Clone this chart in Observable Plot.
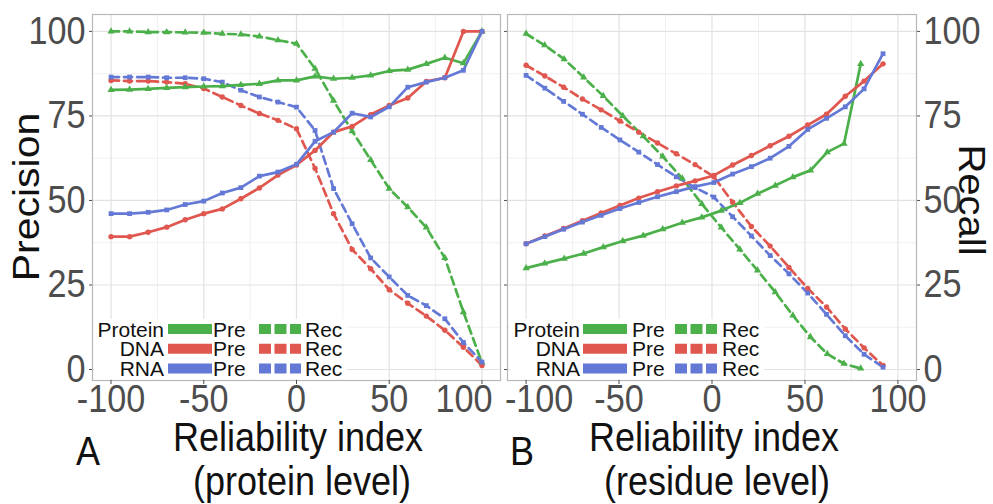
<!DOCTYPE html>
<html>
<head>
<meta charset="utf-8">
<script src="https://cdn.jsdelivr.net/npm/d3@7"></script>
<script src="https://cdn.jsdelivr.net/npm/@observablehq/plot@0.6"></script>
<style>
  body { margin: 0; background: #fff; font-family: "Liberation Sans", Arial, sans-serif; }
  #wrap { position: relative; width: 993px; height: 504px; overflow: hidden; background: #fff; }
  .pan { position: absolute; top: 0; }
  .pan svg { max-width: none; }
  #over { position: absolute; left: 0; top: 0; pointer-events: none; }
</style>
</head>
<body>
<div id="wrap"></div>
<script>
// ---------- data ----------
const seriesNames = ["Protein", "DNA", "RNA"];
const seriesColors = ["#4cb04a", "#e0574f", "#6479d6"];
const seriesSymbols = ["triangle", "circle", "square"];
const metricNames = ["Pre", "Rec"];

const xTicks = [-100, -50, 0, 50, 100];
const xMinor = [-75, -25, 25, 75];
const yTicks = [0, 25, 50, 75, 100];
const yMinor = [12.5, 37.5, 62.5, 87.5];

// Panel A (protein level)
const xA = [-100, -90, -80, -70, -60, -50, -40, -30, -20, -10, 0, 10, 20, 30, 40, 50, 60, 70, 80, 90, 100];
const protPreA = [82.7, 82.8, 83.0, 83.3, 83.5, 83.7, 83.8, 84.2, 84.5, 85.5, 85.5, 86.7, 86.0, 86.3, 87.0, 88.3, 88.7, 90.4, 92.2, 90.6, 100];
const dnaPreA  = [39.3, 39.3, 40.6, 42.1, 44.3, 46.1, 47.5, 50.5, 53.7, 57.5, 60.5, 64.8, 70.2, 71.9, 75.4, 78.1, 80.3, 85.2, 86.3, 100, 100];
const rnaPreA  = [46.1, 46.1, 46.5, 47.2, 48.8, 49.8, 52.2, 53.8, 57.2, 58.4, 60.7, 67.5, 70.2, 75.8, 74.7, 77.7, 83.5, 85.0, 86.3, 88.5, 100];
const protRecA = [100, 100, 99.8, 99.8, 99.7, 99.6, 99.3, 99.1, 98.5, 97.4, 96.4, 89.0, 79.5, 70.5, 62.0, 53.5, 48.0, 42.0, 33.0, 17.0, 2.0];
const dnaRecA  = [85.5, 85.3, 85.3, 85.0, 84.5, 83.1, 80.6, 78.1, 75.7, 73.7, 71.2, 59.5, 46.1, 35.5, 29.8, 23.6, 19.6, 15.8, 11.6, 6.6, 1.2];
const rnaRecA  = [86.5, 86.5, 86.5, 86.3, 86.3, 86.0, 85.0, 82.6, 80.6, 79.1, 77.6, 70.7, 53.5, 43.1, 33.0, 27.4, 21.9, 18.9, 15.0, 8.0, 2.2];

// Panel B (residue level)
const xBprot = [-100, -90, -79.5, -69, -58.5, -48, -37, -26.5, -16, -5.5, 5, 15, 24.5, 34, 43.5, 53, 62, 71, 80];
const protPreB = [30.0, 31.4, 32.8, 34.3, 36.2, 38.0, 39.6, 41.5, 43.4, 45.0, 47.0, 49.3, 52.0, 54.4, 56.9, 58.9, 64.3, 66.8, 90.4];
const protRecB = [99.3, 95.9, 91.8, 86.4, 80.9, 75.0, 69.0, 63.0, 56.5, 49.0, 42.0, 35.5, 29.3, 22.9, 16.0, 9.6, 4.6, 1.7, 0.3];
const xBna = [-100, -89.9, -79.8, -69.7, -59.6, -49.5, -39.4, -29.3, -19.2, -9.1, 1, 11.1, 21.2, 31.3, 41.4, 51.5, 61.6, 71.7, 81.8, 92];
const dnaPreB = [37.2, 39.5, 41.7, 44.0, 46.3, 48.5, 50.7, 52.6, 54.3, 55.8, 57.4, 60.5, 63.3, 66.2, 69.0, 72.3, 75.5, 80.8, 85.3, 90.4];
const rnaPreB = [37.2, 39.3, 41.5, 43.6, 45.6, 47.6, 49.4, 51.1, 52.6, 54.1, 55.3, 57.8, 60.0, 62.5, 66.0, 71.0, 74.3, 77.7, 83.0, 93.4];
const dnaRecB = [90.0, 86.8, 83.5, 80.0, 76.8, 73.5, 70.2, 67.0, 63.8, 60.6, 57.0, 49.5, 42.3, 36.5, 30.2, 24.0, 18.5, 12.0, 6.4, 1.2];
const rnaRecB = [87.0, 83.2, 79.3, 75.5, 71.6, 67.9, 64.3, 60.6, 57.0, 53.8, 51.0, 45.2, 39.5, 33.7, 28.3, 22.6, 16.3, 10.0, 4.5, 0.7];

// ---------- build ----------
const rows = (xs, ys, series, metric) => xs.map((x, i) => ({x, v: ys[i], series, metric}));

const dataA = [
  ...rows(xA, protRecA, "Protein", "Rec"), ...rows(xA, dnaRecA, "DNA", "Rec"), ...rows(xA, rnaRecA, "RNA", "Rec"),
  ...rows(xA, protPreA, "Protein", "Pre"), ...rows(xA, dnaPreA, "DNA", "Pre"), ...rows(xA, rnaPreA, "RNA", "Pre")
];
const dataB = [
  ...rows(xBprot, protRecB, "Protein", "Rec"), ...rows(xBna, dnaRecB, "DNA", "Rec"), ...rows(xBna, rnaRecB, "RNA", "Rec"),
  ...rows(xBprot, protPreB, "Protein", "Pre"), ...rows(xBna, dnaPreB, "DNA", "Pre"), ...rows(xBna, rnaPreB, "RNA", "Pre")
];

const FONT = '"Liberation Sans", Arial, Helvetica, sans-serif';
const TICKFS = 38;
const SQUEEZE = 0.9; // the reference lettering is horizontally condensed

function panelPlot({data, width, marginLeft, marginRight, side, labelGroups}) {
  const marks = [
    Plot.gridX(xMinor, {stroke: "#f0f0f0", strokeOpacity: 1, strokeWidth: 1}),
    Plot.gridY(yMinor, {stroke: "#f0f0f0", strokeOpacity: 1, strokeWidth: 1}),
    Plot.gridX(xTicks, {stroke: "#e2e2e2", strokeOpacity: 1, strokeWidth: 1.2}),
    Plot.gridY(yTicks, {stroke: "#e2e2e2", strokeOpacity: 1, strokeWidth: 1.2}),
    Plot.frame({stroke: "#b8b8b8", strokeWidth: 1.2}),
    Plot.line(data.filter(d => d.metric === "Rec"), {x: "x", y: "v", z: "series", stroke: "series", strokeWidth: 2.7, strokeDasharray: "8,5"}),
    Plot.line(data.filter(d => d.metric === "Pre"), {x: "x", y: "v", z: "series", stroke: "series", strokeWidth: 2.7}),
    Plot.dot(data, {x: "x", y: "v", symbol: "series", fill: "series", r: 2.7}),
    Plot.axisX(xTicks, {anchor: "bottom", tickSize: 4, tickFormat: () => "", label: null}),
  ];
  for (const g of labelGroups) {
    marks.push(Plot.text(g.ticks, {x: d => d, text: d => String(d), frameAnchor: "bottom", lineAnchor: "top", dy: 5, dx: g.dx, fontSize: TICKFS, fill: "#4d4d4d"}));
  }
  if (side === "left") {
    marks.push(Plot.axisY(yTicks, {anchor: "left", tickSize: 3, tickPadding: 4, fontSize: TICKFS, tickFormat: d => String(d), label: null}));
  } else {
    marks.push(Plot.axisY(yTicks, {anchor: "left", tickSize: 3, tickFormat: () => "", label: null}));
    marks.push(Plot.axisY(yTicks, {anchor: "right", tickSize: 3, tickPadding: 4, fontSize: TICKFS, tickFormat: d => String(d), label: null}));
  }
  const svg = Plot.plot({
    width, height: 420,
    marginTop: 14, marginBottom: 40, marginLeft, marginRight,
    x: {domain: [-110, 110], label: null},
    y: {domain: [-3.25, 105], label: null},
    color: {domain: seriesNames, range: seriesColors},
    symbol: {domain: seriesNames, range: seriesSymbols},
    style: {fontFamily: FONT, background: "transparent", color: "#4d4d4d", overflow: "visible"},
    marks
  });
  // condense the tick lettering around each label's own anchor
  svg.querySelectorAll("text").forEach(t => {
    const tr = t.getAttribute("transform");
    if (tr) t.setAttribute("transform", tr + ` scale(${SQUEEZE},1)`);
  });
  return svg;
}

const wrap = document.getElementById("wrap");
function place(node, left, width) {
  const div = document.createElement("div");
  div.className = "pan";
  div.style.left = left + "px";
  div.style.width = width + "px";
  div.appendChild(node);
  wrap.appendChild(div);
}

place(panelPlot({data: dataA, width: 505, marginLeft: 92, marginRight: 5, side: "left",
  labelGroups: [{ticks: [-100, -50, 0, 50], dx: 0}, {ticks: [100], dx: -18}]}), 0, 505);
place(panelPlot({data: dataB, width: 493, marginLeft: 7, marginRight: 77, side: "right",
  labelGroups: [{ticks: [-100], dx: 13}, {ticks: [-50, 0, 50, 100], dx: 0}]}), 500, 493);

// ---------- overlay: titles + legends ----------
const over = d3.select(wrap).append("svg").attr("id", "over").attr("width", 993).attr("height", 504)
  .style("font-family", FONT);

function txt(x, y, s, size, opts = {}) {
  const sq = opts.squeeze === undefined ? SQUEEZE : opts.squeeze;
  const tf = opts.rotate
    ? `translate(${x},${y}) rotate(${opts.rotate}) scale(1,${sq})`
    : `translate(${x},${y}) scale(${sq},1)`;
  return over.append("text").attr("x", 0).attr("y", 0).attr("transform", tf).text(s)
    .attr("font-size", size).attr("fill", opts.fill || "#111")
    .attr("text-anchor", opts.anchor || "start");
}

// axis titles
txt(39, 197, "Precision", 41, {anchor: "middle", rotate: -90});
txt(959, 200, "Recall", 40, {anchor: "middle", rotate: 90});
// panel captions
txt(76, 465, "A", 40);
txt(298, 451, "Reliability index", 40, {anchor: "middle"});
txt(302, 495, "(protein level)", 40, {anchor: "middle"});
txt(510, 465, "B", 40);
txt(714, 451, "Reliability index", 40, {anchor: "middle"});
txt(717, 495, "(residue level)", 40, {anchor: "middle"});

// legends
function legend(labelRight, solidX, preX, dashX, recX) {
  over.append("rect").attr("x", labelRight - 70).attr("y", 319).attr("width", recX + 42 - (labelRight - 70)).attr("height", 60).attr("fill", "#fff");
  seriesNames.forEach((name, i) => {
    const base = 336.5 + i * 19.7;
    const cy = base - 7.5;
    txt(labelRight, base, name, 21, {anchor: "end", squeeze: 1});
    over.append("line").attr("x1", solidX).attr("x2", solidX + 44).attr("y1", cy).attr("y2", cy)
      .attr("stroke", seriesColors[i]).attr("stroke-width", 10);
    txt(preX, base, metricNames[0], 21, {squeeze: 1});
    over.append("line").attr("x1", dashX).attr("x2", dashX + 42).attr("y1", cy).attr("y2", cy)
      .attr("stroke", seriesColors[i]).attr("stroke-width", 10).attr("stroke-dasharray", "12,3.5");
    txt(recX, base, metricNames[1], 21, {squeeze: 1});
  });
}
legend(164, 168, 213, 259, 305);
legend(580, 583, 632, 675, 722);
</script>
</body>
</html>
